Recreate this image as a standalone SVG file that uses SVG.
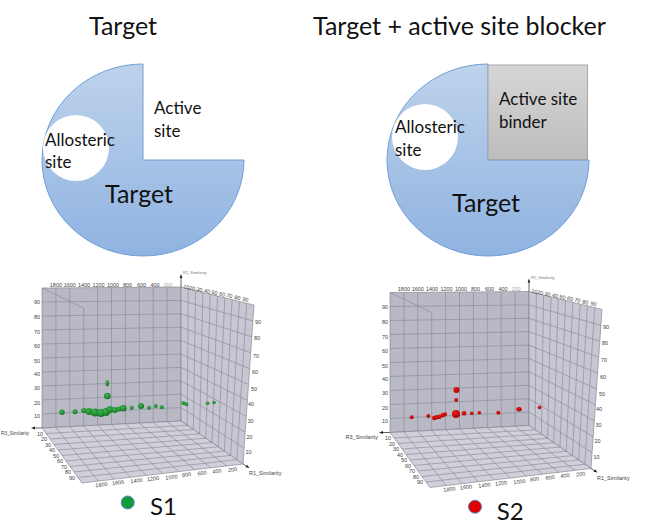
<svg xmlns="http://www.w3.org/2000/svg" width="660" height="526" viewBox="0 0 660 526">
<style>
.ttl{font-family:Lato,"Open Sans",sans-serif;font-size:25px;fill:#111}
.lbl{font-family:Lato,"Open Sans",sans-serif;font-size:17px;fill:#111}
.big{font-family:Lato,"Open Sans",sans-serif;font-size:25px;fill:#111}
.leg{font-family:Lato,"Open Sans",sans-serif;font-size:24px;fill:#111}
.pie{fill:url(#pieg);stroke:#6fa0d8;stroke-width:1}
.hole{fill:#fff}
.bw{fill:#b9b9c6;stroke:#7c7c88;stroke-width:0.6}
.rw{fill:#c7c7d3;stroke:#7c7c88;stroke-width:0.6}
.fl{fill:#d0d0da;stroke:#7c7c88;stroke-width:0.6}
.grid{fill:none;stroke:#858594;stroke-width:0.6}
.tk{font-family:"Liberation Sans",Arial,sans-serif;font-size:5.5px;fill:#444}
.tke{font-family:"Liberation Sans",Arial,sans-serif;font-size:5.5px;fill:#444;text-anchor:end}
.tkm{font-family:"Liberation Sans",Arial,sans-serif;font-size:5.5px;fill:#444;text-anchor:middle}
.ax{font-family:"Liberation Sans",Arial,sans-serif;font-size:5.5px;fill:#444}
.axl{stroke:#222;stroke-width:0.7;fill:none}
.ah{fill:#222}
.gd{fill:url(#gdot)}
.rd{fill:url(#rdot)}
</style>
<defs>
<linearGradient id="pieg" x1="0" y1="0" x2="0" y2="1">
<stop offset="0" stop-color="#bed2eb"/>
<stop offset="1" stop-color="#8fb3e1"/>
</linearGradient>
<linearGradient id="boxg" x1="0" y1="0" x2="0" y2="1">
<stop offset="0" stop-color="#d6d6d6"/>
<stop offset="1" stop-color="#bdbdbd"/>
</linearGradient>
<radialGradient id="gdot" cx="0.4" cy="0.35" r="0.7">
<stop offset="0" stop-color="#3fb54e"/>
<stop offset="1" stop-color="#0f7120"/>
</radialGradient>
<radialGradient id="rdot" cx="0.4" cy="0.35" r="0.7">
<stop offset="0" stop-color="#f01818"/>
<stop offset="1" stop-color="#a50000"/>
</radialGradient>
</defs>

<g id="title-left"><text class="ttl" x="123" y="35" text-anchor="middle">Target</text></g>
<g id="title-right"><text class="ttl" x="313" y="35">Target + active site blocker</text></g>

<g id="pie-left">
<path class="pie" d="M143,64 A101,96 0 1,0 244,160 L143,160 Z"/>
<circle class="hole" cx="76" cy="148" r="33"/>
<text class="lbl" x="45" y="146">Allosteric</text>
<text class="lbl" x="45" y="168">site</text>
<text class="lbl" x="154" y="114">Active</text>
<text class="lbl" x="154" y="137">site</text>
<text class="big" x="139" y="203" text-anchor="middle">Target</text>
</g>

<g id="pie-right">
<path class="pie" d="M488,64 A101,96 0 1,0 589,160 L488,160 Z"/>
<rect x="488" y="65" width="99.5" height="94.5" fill="url(#boxg)" stroke="#a6a6a6" stroke-width="1"/>
<circle class="hole" cx="425" cy="137" r="33"/>
<text class="lbl" x="395" y="133">Allosteric</text>
<text class="lbl" x="395" y="156">site</text>
<text class="lbl" x="499" y="105">Active site</text>
<text class="lbl" x="499" y="128">binder</text>
<text class="big" x="486" y="212" text-anchor="middle">Target</text>
</g>

<g id="plot-left">
<g id="cube-left">
<polygon class="bw" points="42,288 181,287 181,421 42,428"/>
<polygon class="rw" points="181,287 254,305 243,464 181,421"/>
<polygon class="fl" points="42,428 181,421 243,464 82,483"/>
<path class="grid" d="M42,302L181,300.4M42,316L181,313.8M42,330L181,327.2M42,344L181,340.6M42,358L181,354M42,372L181,367.4M42,386L181,380.8M42,400L181,394.2M42,414L181,407.6
M55.9,288L55.9,427.3M69.8,288L69.8,426.6M83.7,308L83.7,425.9M97.6,288L97.6,425.2M111.5,288L111.5,424.5M125.4,288L125.4,423.8M139.3,288L139.3,423.1M153.2,288L153.2,422.4M167.1,288L167.1,421.7M42,288L83.7,308
M181,300.4L252.9,320.9M181,313.8L251.8,336.8M181,327.2L250.7,352.7M181,340.6L249.6,368.6M181,354L248.5,384.5M181,367.4L247.4,400.4M181,380.8L246.3,416.3M181,394.2L245.2,432.2M181,407.6L244.1,448.1
M188.3,288.8L187.2,425.3M195.6,290.6L193.4,429.6M202.9,292.4L199.6,433.9M210.2,294.2L205.8,438.2M217.5,296L212,442.5M224.8,297.8L218.2,446.8M232.1,299.6L224.4,451.1M239.4,301.4L230.6,455.4M246.7,303.2L236.8,459.7
M55.9,427.3L98.1,481.1M69.8,426.6L114.2,479.2M83.7,425.9L130.3,477.3M97.6,425.2L146.4,475.4M111.5,424.5L162.5,473.5M125.4,423.8L178.6,471.6M139.3,423.1L194.7,469.7M153.2,422.4L210.8,467.8M167.1,421.7L226.9,465.9
M46,433.5L187.2,425.3M50,439L193.4,429.6M54,444.5L199.6,433.9M58,450L205.8,438.2M62,455.5L212,442.5M66,461L218.2,446.8M70,466.5L224.4,451.1M74,472L230.6,455.4M78,477.5L236.8,459.7"/>
<path class="axl" d="M181,287L181,277M42,428L34,428M243,464L247,466.5"/>
<polygon class="ah" points="181,274 179.6,278 182.4,278"/>
<polygon class="ah" points="31,428 35,426.6 35,429.4"/>
<polygon class="ah" points="249.5,468 245.5,467.2 247,464.8"/>
<text class="ax" x="183" y="274" style="font-size:4px;fill:#777">R2_Similarity</text>
<text class="ax" x="1" y="434.5" style="font-size:4.8px">R3_Similarity</text>
<text class="ax" x="249" y="475">R1_Similarity</text>
<g class="tkm">
<text x="55.9" y="286.5">1800</text><text x="69.8" y="286.5">1600</text><text x="84" y="286.5">1400</text><text x="98.5" y="286.5">1200</text><text x="113" y="286.5">1000</text><text x="127.5" y="286.5">800</text><text x="141.5" y="286.5">600</text><text x="155" y="286.5">400</text><text x="168" y="286.5" fill="#aaa">200</text>
</g>
<g class="tke">
<text x="40" y="304">90</text><text x="40" y="319">80</text><text x="40" y="334">70</text><text x="40" y="348">60</text><text x="40" y="363">50</text><text x="40" y="376">40</text><text x="40" y="390">30</text><text x="40" y="405">20</text><text x="40" y="418">10</text>
<text x="43" y="435.5">10</text><text x="47" y="441">20</text><text x="51" y="446.5">30</text><text x="55" y="452">40</text><text x="59" y="457.5">50</text><text x="63" y="463">60</text><text x="67" y="468.5">70</text><text x="71" y="474">80</text><text x="75" y="479.5">90</text>
</g>
<g class="tk">
<text x="255" y="324">90</text><text x="254" y="340">80</text><text x="253" y="357.7">70</text><text x="252" y="374">60</text><text x="251" y="391">50</text><text x="248" y="406">40</text><text x="247.5" y="422.7">30</text><text x="246.5" y="438.7">20</text><text x="245.5" y="454">10</text>
</g>
<g class="tkm">
<text x="186" y="288.7" transform="rotate(14 186 288.7)">10</text><text x="191.7" y="290" transform="rotate(14 191.7 290)">20</text><text x="199" y="291.5" transform="rotate(14 199 291.5)">30</text><text x="206.7" y="293" transform="rotate(14 206.7 293)">40</text><text x="214" y="294.5" transform="rotate(14 214 294.5)">50</text><text x="221.7" y="296" transform="rotate(14 221.7 296)">60</text><text x="229" y="297.5" transform="rotate(14 229 297.5)">70</text><text x="237" y="299.5" transform="rotate(14 237 299.5)">80</text><text x="245" y="301.3" transform="rotate(14 245 301.3)">90</text>
</g>
<g class="tkm">
<text x="101.7" y="486.5" transform="rotate(-7 101.7 486.5)">1800</text><text x="118.3" y="484.5" transform="rotate(-7 118.3 484.5)">1600</text><text x="136.7" y="482.5" transform="rotate(-7 136.7 482.5)">1400</text><text x="153.3" y="480.5" transform="rotate(-7 153.3 480.5)">1200</text><text x="171.7" y="479" transform="rotate(-7 171.7 479)">1000</text><text x="186.7" y="476.5" transform="rotate(-7 186.7 476.5)">800</text><text x="202.3" y="475" transform="rotate(-7 202.3 475)">600</text><text x="217.3" y="473" transform="rotate(-7 217.3 473)">400</text><text x="232.7" y="471.5" transform="rotate(-7 232.7 471.5)">200</text>
</g>
</g>
<g id="points-left">
<circle class="gd" cx="62" cy="412.3" r="2.7"/>
<circle class="gd" cx="75" cy="411.7" r="2.5"/>
<ellipse class="gd" cx="84" cy="410.5" rx="3" ry="2.5"/>
<circle class="gd" cx="89" cy="411.5" r="3.5"/>
<circle class="gd" cx="95" cy="412.5" r="4"/>
<circle class="gd" cx="101" cy="413" r="4"/>
<circle class="gd" cx="106" cy="412" r="4"/>
<circle class="gd" cx="110" cy="409.5" r="3.5"/>
<circle class="gd" cx="115" cy="410" r="3"/>
<circle class="gd" cx="119" cy="409" r="2.5"/>
<circle class="gd" cx="123.3" cy="408.3" r="3.3"/>
<circle class="gd" cx="131.7" cy="407.7" r="2"/>
<circle class="gd" cx="141" cy="406" r="3"/>
<circle class="gd" cx="149" cy="407.7" r="2"/>
<circle class="gd" cx="155.7" cy="406" r="2"/>
<circle class="gd" cx="161.7" cy="407.3" r="2"/>
<circle class="gd" cx="107.3" cy="396" r="3.3"/>
<ellipse class="gd" cx="107.3" cy="383.3" rx="1.8" ry="3"/>
<circle class="gd" cx="183.3" cy="402.9" r="2"/>
<circle class="gd" cx="186.3" cy="404.3" r="2"/>
<circle class="gd" cx="207.5" cy="403.3" r="1.8"/>
<circle class="gd" cx="214" cy="402.5" r="1.8"/>
</g>
</g>

<g id="plot-right">
<g id="cube-right" transform="translate(348,4.5)">
<polygon class="bw" points="42,288 181,287 181,421 42,428"/>
<polygon class="rw" points="181,287 254,305 243,464 181,421"/>
<polygon class="fl" points="42,428 181,421 243,464 82,483"/>
<path class="grid" d="M42,302L181,300.4M42,316L181,313.8M42,330L181,327.2M42,344L181,340.6M42,358L181,354M42,372L181,367.4M42,386L181,380.8M42,400L181,394.2M42,414L181,407.6
M55.9,288L55.9,427.3M69.8,288L69.8,426.6M83.7,308L83.7,425.9M97.6,288L97.6,425.2M111.5,288L111.5,424.5M125.4,288L125.4,423.8M139.3,288L139.3,423.1M153.2,288L153.2,422.4M167.1,288L167.1,421.7M42,288L83.7,308
M181,300.4L252.9,320.9M181,313.8L251.8,336.8M181,327.2L250.7,352.7M181,340.6L249.6,368.6M181,354L248.5,384.5M181,367.4L247.4,400.4M181,380.8L246.3,416.3M181,394.2L245.2,432.2M181,407.6L244.1,448.1
M188.3,288.8L187.2,425.3M195.6,290.6L193.4,429.6M202.9,292.4L199.6,433.9M210.2,294.2L205.8,438.2M217.5,296L212,442.5M224.8,297.8L218.2,446.8M232.1,299.6L224.4,451.1M239.4,301.4L230.6,455.4M246.7,303.2L236.8,459.7
M55.9,427.3L98.1,481.1M69.8,426.6L114.2,479.2M83.7,425.9L130.3,477.3M97.6,425.2L146.4,475.4M111.5,424.5L162.5,473.5M125.4,423.8L178.6,471.6M139.3,423.1L194.7,469.7M153.2,422.4L210.8,467.8M167.1,421.7L226.9,465.9
M46,433.5L187.2,425.3M50,439L193.4,429.6M54,444.5L199.6,433.9M58,450L205.8,438.2M62,455.5L212,442.5M66,461L218.2,446.8M70,466.5L224.4,451.1M74,472L230.6,455.4M78,477.5L236.8,459.7"/>
<path class="axl" d="M181,287L181,277M42,428L34,428M243,464L247,466.5"/>
<polygon class="ah" points="181,274 179.6,278 182.4,278"/>
<polygon class="ah" points="31,428 35,426.6 35,429.4"/>
<polygon class="ah" points="249.5,468 245.5,467.2 247,464.8"/>
<text class="ax" x="183" y="274" style="font-size:4px;fill:#777">R2_Similarity</text>
<text class="ax" x="30" y="434.5" text-anchor="end">R3_Similarity</text>
<text class="ax" x="249" y="475">R1_Similarity</text>
<g class="tkm">
<text x="55.9" y="286.5">1800</text><text x="69.8" y="286.5">1600</text><text x="84" y="286.5">1400</text><text x="98.5" y="286.5">1200</text><text x="113" y="286.5">1000</text><text x="127.5" y="286.5">800</text><text x="141.5" y="286.5">600</text><text x="155" y="286.5">400</text><text x="168" y="286.5" fill="#aaa">200</text>
</g>
<g class="tke">
<text x="40" y="304">90</text><text x="40" y="319">80</text><text x="40" y="334">70</text><text x="40" y="348">60</text><text x="40" y="363">50</text><text x="40" y="376">40</text><text x="40" y="390">30</text><text x="40" y="405">20</text><text x="40" y="418">10</text>
<text x="43" y="435.5">10</text><text x="47" y="441">20</text><text x="51" y="446.5">30</text><text x="55" y="452">40</text><text x="59" y="457.5">50</text><text x="63" y="463">60</text><text x="67" y="468.5">70</text><text x="71" y="474">80</text><text x="75" y="479.5">90</text>
</g>
<g class="tk">
<text x="255" y="324">90</text><text x="254" y="340">80</text><text x="253" y="357.7">70</text><text x="252" y="374">60</text><text x="251" y="391">50</text><text x="248" y="406">40</text><text x="247.5" y="422.7">30</text><text x="246.5" y="438.7">20</text><text x="245.5" y="454">10</text>
</g>
<g class="tkm">
<text x="186" y="288.7" transform="rotate(14 186 288.7)">10</text><text x="191.7" y="290" transform="rotate(14 191.7 290)">20</text><text x="199" y="291.5" transform="rotate(14 199 291.5)">30</text><text x="206.7" y="293" transform="rotate(14 206.7 293)">40</text><text x="214" y="294.5" transform="rotate(14 214 294.5)">50</text><text x="221.7" y="296" transform="rotate(14 221.7 296)">60</text><text x="229" y="297.5" transform="rotate(14 229 297.5)">70</text><text x="237" y="299.5" transform="rotate(14 237 299.5)">80</text><text x="245" y="301.3" transform="rotate(14 245 301.3)">90</text>
</g>
<g class="tkm">
<text x="101.7" y="486.5" transform="rotate(-7 101.7 486.5)">1800</text><text x="118.3" y="484.5" transform="rotate(-7 118.3 484.5)">1600</text><text x="136.7" y="482.5" transform="rotate(-7 136.7 482.5)">1400</text><text x="153.3" y="480.5" transform="rotate(-7 153.3 480.5)">1200</text><text x="171.7" y="479" transform="rotate(-7 171.7 479)">1000</text><text x="186.7" y="476.5" transform="rotate(-7 186.7 476.5)">800</text><text x="202.3" y="475" transform="rotate(-7 202.3 475)">600</text><text x="217.3" y="473" transform="rotate(-7 217.3 473)">400</text><text x="232.7" y="471.5" transform="rotate(-7 232.7 471.5)">200</text>
</g>
</g>
<g id="points-right">
<circle class="rd" cx="411.7" cy="417.3" r="2"/>
<circle class="rd" cx="428.3" cy="416" r="2"/>
<circle class="rd" cx="434.3" cy="418" r="2.3"/>
<circle class="rd" cx="436.7" cy="417.3" r="2.3"/>
<circle class="rd" cx="439.3" cy="416.7" r="2.3"/>
<circle class="rd" cx="442.7" cy="415.3" r="2.3"/>
<circle class="rd" cx="445" cy="414.3" r="2"/>
<circle class="rd" cx="456" cy="414" r="4"/>
<circle class="rd" cx="464" cy="413.3" r="2.3"/>
<circle class="rd" cx="471.7" cy="413.3" r="1.8"/>
<circle class="rd" cx="479.3" cy="412.7" r="1.8"/>
<circle class="rd" cx="498.3" cy="412.7" r="2"/>
<ellipse class="rd" cx="519" cy="409.3" rx="2.7" ry="2.2"/>
<circle class="rd" cx="539.5" cy="407.5" r="1.8"/>
<circle class="rd" cx="456.2" cy="400" r="2"/>
<circle class="rd" cx="456.5" cy="390" r="3"/>
</g>
</g>

<g id="legend-s1">
<circle cx="127.7" cy="502.5" r="6.5" fill="#109a3a" stroke="#5b86c4" stroke-width="1"/>
<text class="leg" x="150" y="515">S1</text>
</g>
<g id="legend-s2">
<circle cx="475" cy="506.7" r="6.5" fill="#e00000" stroke="#5b86c4" stroke-width="1"/>
<text class="leg" x="496.7" y="520">S2</text>
</g>
</svg>
